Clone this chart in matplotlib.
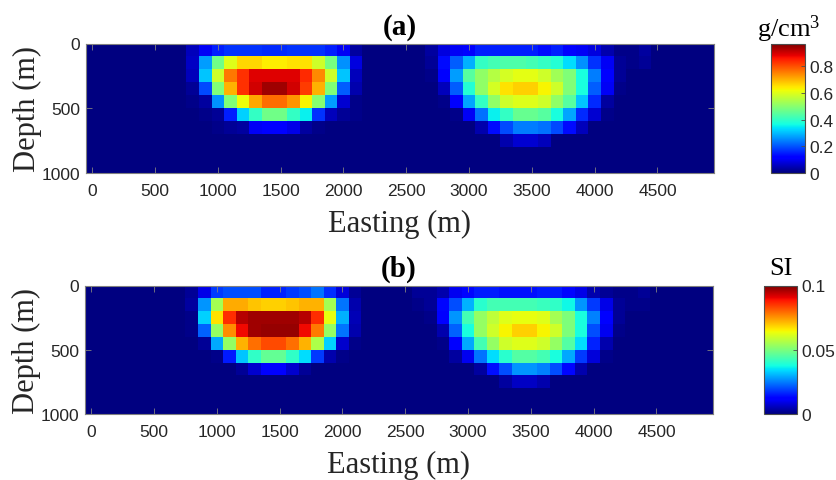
import numpy as np
import matplotlib
matplotlib.use("Agg")
import matplotlib.pyplot as plt

plt.rcParams["mathtext.fontset"] = "custom"
plt.rcParams["mathtext.rm"] = "Liberation Serif"
plt.rcParams["mathtext.default"] = "rm"

# ---------------- grid (cell centres) ----------------
n_cols, n_rows, cell = 50, 10, 100          # 100 m cells
x_ticks = [0, 500, 1000, 1500, 2000, 2500, 3000, 3500, 4000, 4500]
y_ticks = [0, 500, 1000]

# ---------------- (a) density, g/cm^3 ----------------
dens_vmax = 0.97
dens_body1_east = 800   # first column of block (m)
dens_body1 = [
    [0.05, 0.10, 0.15, 0.17, 0.17, 0.17, 0.16, 0.16, 0.17, 0.17, 0.17, 0.15, 0.10, 0.03],
    [0.06, 0.27, 0.47, 0.60, 0.66, 0.66, 0.64, 0.64, 0.65, 0.65, 0.58, 0.48, 0.26, 0.08],
    [0.05, 0.31, 0.58, 0.76, 0.83, 0.89, 0.89, 0.89, 0.89, 0.84, 0.74, 0.58, 0.31, 0.05],
    [0.02, 0.19, 0.49, 0.70, 0.83, 0.90, 0.94, 0.94, 0.90, 0.82, 0.70, 0.49, 0.21, 0.04],
    [0.01, 0.03, 0.26, 0.49, 0.62, 0.71, 0.77, 0.77, 0.73, 0.63, 0.50, 0.27, 0.07, 0.01],
    [0.00, 0.01, 0.02, 0.15, 0.32, 0.40, 0.47, 0.47, 0.40, 0.35, 0.17, 0.05, 0.02, 0.01],
    [0.00, 0.00, 0.01, 0.02, 0.03, 0.10, 0.12, 0.12, 0.09, 0.03, 0.01, 0.00, 0.00, 0.00],
]
dens_body2_east = 2700
dens_body2 = [
    [0.03, 0.08, 0.10, 0.12, 0.15, 0.15, 0.15, 0.15, 0.15, 0.13, 0.15, 0.12, 0.10, 0.08, 0.04, 0.01, 0.01, 0.03],
    [0.02, 0.13, 0.21, 0.29, 0.40, 0.42, 0.43, 0.43, 0.42, 0.40, 0.38, 0.33, 0.26, 0.17, 0.10, 0.02, 0.01, 0.02],
    [0.01, 0.12, 0.27, 0.44, 0.51, 0.55, 0.59, 0.61, 0.61, 0.58, 0.53, 0.49, 0.37, 0.24, 0.12, 0.02, 0.00, 0.00],
    [0.00, 0.05, 0.21, 0.38, 0.51, 0.59, 0.65, 0.67, 0.67, 0.63, 0.58, 0.49, 0.37, 0.21, 0.10, 0.01, 0.00, 0.00],
    [0.00, 0.01, 0.12, 0.28, 0.40, 0.51, 0.58, 0.60, 0.60, 0.58, 0.51, 0.44, 0.31, 0.16, 0.03, 0.00, 0.00, 0.00],
    [0.00, 0.00, 0.01, 0.10, 0.23, 0.35, 0.40, 0.46, 0.46, 0.44, 0.37, 0.28, 0.16, 0.07, 0.01, 0.00, 0.00, 0.00],
    [0.00, 0.00, 0.00, 0.00, 0.04, 0.13, 0.19, 0.24, 0.24, 0.23, 0.19, 0.13, 0.05, 0.00, 0.00, 0.00, 0.00, 0.00],
    [0.00, 0.00, 0.00, 0.00, 0.00, 0.00, 0.04, 0.07, 0.07, 0.05, 0.00, 0.00, 0.00, 0.00, 0.00, 0.00, 0.00, 0.00],
]
dens_cbar_ticks = [0, 0.2, 0.4, 0.6, 0.8]

# ---------------- (b) susceptibility, SI ----------------
sus_vmax = 0.1
sus_body1_east = 800
sus_body1 = [
    [0.002, 0.009, 0.018, 0.020, 0.020, 0.020, 0.016, 0.016, 0.018, 0.020, 0.024, 0.017, 0.008, 0.002],
    [0.003, 0.027, 0.055, 0.073, 0.073, 0.070, 0.069, 0.069, 0.070, 0.072, 0.072, 0.055, 0.024, 0.004],
    [0.001, 0.033, 0.067, 0.086, 0.095, 0.097, 0.097, 0.097, 0.097, 0.095, 0.086, 0.063, 0.030, 0.005],
    [0.001, 0.022, 0.053, 0.076, 0.090, 0.097, 0.098, 0.098, 0.098, 0.090, 0.078, 0.053, 0.024, 0.004],
    [0.000, 0.002, 0.029, 0.053, 0.072, 0.079, 0.083, 0.083, 0.079, 0.072, 0.056, 0.033, 0.007, 0.001],
    [0.000, 0.000, 0.001, 0.015, 0.032, 0.041, 0.047, 0.047, 0.041, 0.034, 0.018, 0.004, 0.001, 0.000],
    [0.000, 0.000, 0.000, 0.000, 0.002, 0.007, 0.011, 0.011, 0.007, 0.002, 0.000, 0.000, 0.000, 0.000],
]
sus_body2_east = 2600
sus_body2 = [
    [0.002, 0.002, 0.004, 0.010, 0.013, 0.015, 0.015, 0.014, 0.014, 0.014, 0.015, 0.015, 0.013, 0.009, 0.004, 0.002, 0.001, 0.001, 0.002],
    [0.001, 0.002, 0.013, 0.020, 0.030, 0.040, 0.043, 0.043, 0.043, 0.043, 0.042, 0.041, 0.037, 0.027, 0.018, 0.009, 0.002, 0.001, 0.001],
    [0.000, 0.001, 0.011, 0.027, 0.043, 0.053, 0.058, 0.062, 0.063, 0.063, 0.062, 0.055, 0.050, 0.038, 0.025, 0.012, 0.002, 0.000, 0.000],
    [0.000, 0.000, 0.004, 0.022, 0.038, 0.053, 0.060, 0.065, 0.069, 0.069, 0.065, 0.060, 0.050, 0.038, 0.020, 0.010, 0.001, 0.000, 0.000],
    [0.000, 0.000, 0.001, 0.011, 0.029, 0.043, 0.053, 0.060, 0.062, 0.062, 0.060, 0.053, 0.045, 0.034, 0.016, 0.004, 0.000, 0.000, 0.000],
    [0.000, 0.000, 0.000, 0.003, 0.010, 0.024, 0.034, 0.040, 0.045, 0.045, 0.043, 0.038, 0.029, 0.018, 0.008, 0.001, 0.000, 0.000, 0.000],
    [0.000, 0.000, 0.000, 0.000, 0.000, 0.003, 0.014, 0.020, 0.027, 0.027, 0.025, 0.020, 0.013, 0.004, 0.000, 0.000, 0.000, 0.000, 0.000],
    [0.000, 0.000, 0.000, 0.000, 0.000, 0.000, 0.000, 0.003, 0.006, 0.006, 0.004, 0.000, 0.000, 0.000, 0.000, 0.000, 0.000, 0.000, 0.000],
]
sus_cbar_ticks = [0, 0.05, 0.1]


def build_grid(blocks):
    g = np.zeros((n_rows, n_cols))
    for east, blk in blocks:
        arr = np.asarray(blk, dtype=float)
        c0 = east // cell
        g[:arr.shape[0], c0:c0 + arr.shape[1]] = arr
    return g


dens_grid = build_grid([(dens_body1_east, dens_body1), (dens_body2_east, dens_body2)])
sus_grid = build_grid([(sus_body1_east, sus_body1), (sus_body2_east, sus_body2)])

x_edges = np.arange(n_cols + 1) * cell - cell / 2
y_edges = np.arange(n_rows + 1) * cell

W, H = 837, 481
fig = plt.figure(figsize=(W / 100, H / 100), dpi=100)

SANS = "Liberation Sans"
SERIF = "Liberation Serif"
DARK = (0.15, 0.15, 0.15)


def fr(l, t, r, b):
    return [l / W, 1 - b / H, (r - l) / W, (b - t) / H]


panels = [
    dict(grid=dens_grid, vmax=dens_vmax, title="(a)", ax=fr(86, 44.5, 714, 174),
         cax=fr(771.5, 44.5, 805.5, 174), cticks=dens_cbar_ticks,
         ctick_labels=["0", "0.2", "0.4", "0.6", "0.8"], unit="g/cm$^3$", upad=5),
    dict(grid=sus_grid, vmax=sus_vmax, title="(b)", ax=fr(85, 286.5, 713, 415),
         cax=fr(764, 286.5, 797, 415), cticks=sus_cbar_ticks,
         ctick_labels=["0", "0.05", "0.1"], unit="SI", upad=8),
]

for p in panels:
    ax = fig.add_axes(p["ax"])
    mesh = ax.pcolormesh(x_edges, y_edges, p["grid"], cmap="jet",
                         vmin=0, vmax=p["vmax"], shading="flat")
    ax.set_xlim(x_edges[0], x_edges[-1])
    ax.set_ylim(1000, 0)
    ax.set_xticks(x_ticks)
    ax.set_yticks(y_ticks)
    ax.tick_params(direction="in", top=True, right=True, length=4, width=0.6,
                   color=(0.5, 0.5, 0.5), labelsize=12.5, labelcolor=DARK)
    ax.tick_params(axis="x", pad=7)
    ax.tick_params(axis="y", pad=4)
    for lab in ax.get_xticklabels() + ax.get_yticklabels():
        lab.set_fontfamily(SANS)
    for s in ax.spines.values():
        s.set_color((0.5, 0.5, 0.5))
        s.set_linewidth(0.8)
    ax.set_xlabel("Easting (m)", fontfamily=SERIF, fontsize=22, color=DARK, labelpad=8)
    ax.set_ylabel("Depth (m)", fontfamily=SERIF, fontsize=22, color=DARK, labelpad=0)
    ax.set_title(p["title"], fontfamily=SERIF, fontsize=21, fontweight="bold",
                 color="black", pad=7)

    cax = fig.add_axes(p["cax"])
    cb = fig.colorbar(mesh, cax=cax)
    cb.set_ticks(p["cticks"])
    cb.set_ticklabels(p["ctick_labels"])
    cax.tick_params(direction="in", length=3, width=0.6, color=(0.3, 0.3, 0.3),
                    labelsize=12.5, labelcolor=DARK, pad=3)
    for lab in cax.get_yticklabels():
        lab.set_fontfamily(SANS)
    cb.outline.set_edgecolor((0.3, 0.3, 0.3))
    cb.outline.set_linewidth(0.8)
    cax.set_title(p["unit"], fontfamily=SERIF, fontsize=19, color="black", pad=p["upad"])

fig.savefig("out.png", dpi=100, facecolor="white")
